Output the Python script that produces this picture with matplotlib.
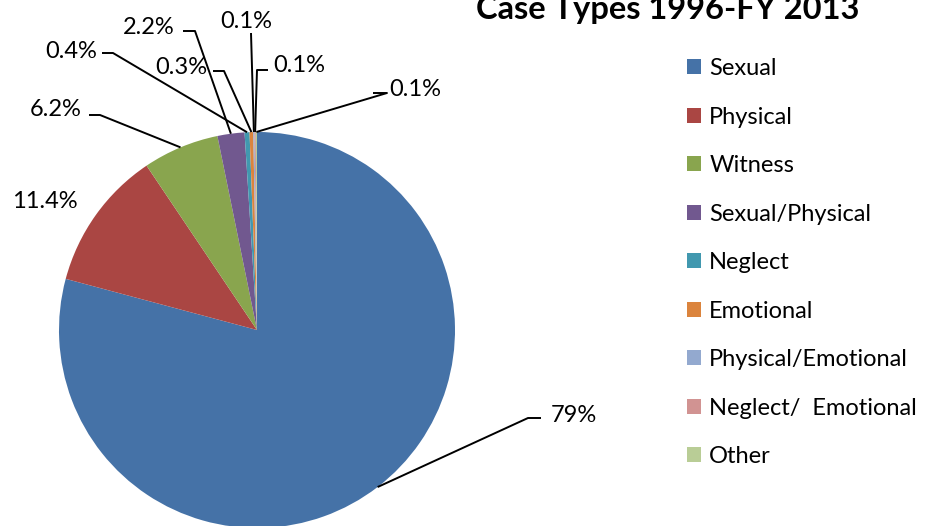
import matplotlib
matplotlib.use("Agg")
import matplotlib.pyplot as plt
from matplotlib.patches import Patch
import numpy as np

categories = ["Sexual", "Physical", "Witness", "Sexual/Physical", "Neglect",
              "Emotional", "Physical/Emotional", "Neglect/  Emotional", "Other"]
values = [79.0, 11.4, 6.2, 2.2, 0.4, 0.3, 0.1, 0.1, 0.1]
labels = ["79%", "11.4%", "6.2%", "2.2%", "0.4%", "0.3%", "0.1%", "0.1%", "0.1%"]
colors = ["#4572A7", "#AA4643", "#89A54E", "#71588F", "#4198AF",
          "#DB843D", "#93A9CF", "#D19392", "#B9CD96"]

W, H = 927, 526
fig = plt.figure(figsize=(W / 100, H / 100), dpi=100)
plt.rcParams['font.family'] = ['Lato', 'DejaVu Sans']
FS = 17

# pie geometry (pixels)
cx, cy, R = 257, 330, 198
ax = fig.add_axes([(cx - R) / W, (H - cy - R) / H, 2 * R / W, 2 * R / H])
wedges, _ = ax.pie(values, colors=colors, startangle=90, counterclock=False,
                   radius=1, center=(0, 0), wedgeprops=dict(linewidth=0))
ax.set_xlim(-1, 1)
ax.set_ylim(-1, 1)
ax.axis('off')

def px2d(px, py):
    return (px - cx) / R, (cy - py) / R

# label layout in pixels: (line_end_x, elbow_x, elbow_y, text_x, text_y, ha)
layout = [
    (541, 528, 418, 551, 413, 'left'),
    None,
    (89, 100, 115, 82, 108, 'right'),
    (183, 195, 31, 175, 25, 'right'),
    (102, 113, 53, 97, 49, 'right'),
    (213, 224, 71, 207, 65, 'right'),
    (251, 251, 33, 246, 20, 'center'),
    (268, 257, 70, 273, 63, 'left'),
    (373, 387, 93, 389, 87, 'left'),
]
label_plain = (45, 199)

for i, w in enumerate(wedges):
    mid = np.deg2rad((w.theta1 + w.theta2) / 2)
    ex, ey = np.cos(mid), np.sin(mid)
    L = layout[i]
    if L is None:
        tx, ty = px2d(*label_plain)
        ax.text(tx, ty, labels[i], ha='center', va='center_baseline', fontsize=FS,
                color='black', clip_on=False)
        continue
    fx, nx, ly, txp, typ, ha = L
    p1 = px2d(fx, ly)
    p2 = px2d(nx, ly)
    ax.plot([p1[0], p2[0], ex], [p1[1], p2[1], ey], color='black', lw=1.4,
            clip_on=False, solid_capstyle='butt')
    tx, ty = px2d(txp, typ)
    ax.text(tx, ty, labels[i], ha=ha, va='center_baseline', fontsize=FS,
            color='black', clip_on=False)

fig.text(668 / W, 1 - 19 / H, "Case Types 1996-FY 2013", ha='center', va='baseline',
         fontsize=23.5, fontweight='bold')

handles = [Patch(facecolor=c, edgecolor='none') for c in colors]
fig.legend(handles, categories, loc='upper left',
           bbox_to_anchor=(687 / W, 1 - 58 / H), frameon=False,
           fontsize=FS, handlelength=0.6, handleheight=0.6,
           handletextpad=0.34, labelspacing=1.165, borderaxespad=0, borderpad=0)

fig.savefig("out.png", dpi=100)
